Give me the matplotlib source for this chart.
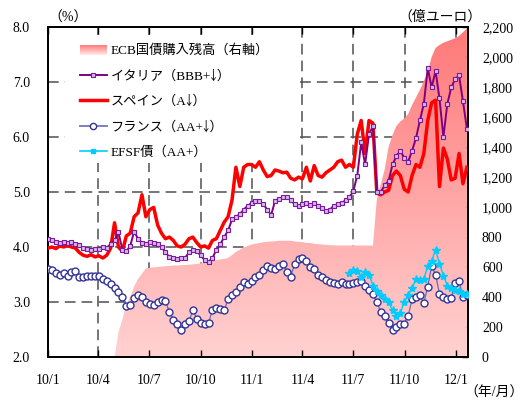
import numpy as np
import pandas as pd
import matplotlib
matplotlib.use("Agg")
import matplotlib.pyplot as plt
import matplotlib.dates as mdates
from matplotlib.patches import Rectangle
from matplotlib.lines import Line2D
from matplotlib.legend_handler import HandlerBase

plt.rcParams['font.family'] = ['Liberation Serif', 'Noto Sans CJK JP', 'DejaVu Sans']
plt.rcParams['font.size'] = 10

# Weekly observations from the first week of 2010
dates = pd.date_range('2010-01-01', periods=108, freq='7D')

# 10-year government bond yields (%)
italy = [4.15, 4.12, 4.10, 4.08, 4.10, 4.07, 4.10, 4.06, 4.04, 3.98,
         3.96, 3.95, 3.96, 3.97, 4.00, 3.99, 4.05, 4.12, 4.27, 3.95,
         3.92, 4.02, 4.28, 4.15, 4.08, 4.05, 4.10, 4.07, 4.05, 4.00,
         3.90, 3.82, 3.80, 3.78, 3.80, 3.80, 3.90, 3.95, 3.92, 3.85,
         3.76, 3.73, 3.80, 3.95, 4.05, 4.18, 4.30, 4.50, 4.55, 4.60,
         4.68, 4.75, 4.80, 4.84, 4.83, 4.78, 4.68, 4.58, 4.84, 4.88,
         4.90, 4.90, 4.85, 4.78, 4.75, 4.78, 4.80, 4.76, 4.80, 4.75,
         4.70, 4.65, 4.68, 4.75, 4.78, 4.80, 4.85, 4.90, 5.02, 5.30,
         5.90, 5.50, 6.05, 6.20, 5.00, 5.00, 5.12, 5.20, 5.50, 5.65,
         5.75, 5.62, 5.55, 5.75, 5.98, 6.30, 6.60, 7.25, 6.90, 7.20,
         6.70, 6.00, 6.60, 6.90, 7.05, 7.12, 6.65, 6.15]

spain = [3.98, 4.00, 3.97, 4.02, 4.00, 4.03, 4.00, 3.98, 3.90, 3.85,
         3.83, 3.86, 3.82, 3.84, 3.80, 3.85, 3.98, 4.44, 4.00, 3.92,
         4.20, 4.25, 4.55, 4.62, 4.95, 4.55, 4.68, 4.72, 4.40, 4.25,
         4.15, 4.18, 4.12, 4.02, 4.00, 4.05, 4.15, 4.18, 4.08, 4.00,
         4.02, 3.98, 4.12, 4.15, 4.30, 4.45, 4.55, 4.85, 5.45, 5.10,
         5.45, 5.50, 5.50, 5.45, 5.55, 5.40, 5.28, 5.30, 5.40, 5.38,
         5.35, 5.36, 5.25, 5.22, 5.27, 5.24, 5.45, 5.20, 5.48, 5.30,
         5.27, 5.35, 5.40, 5.45, 5.55, 5.58, 5.45, 5.50, 5.45, 6.05,
         6.30, 5.70, 6.30, 6.25, 4.98, 4.95, 5.00, 5.03, 5.30, 5.38,
         5.30, 5.05, 5.00, 5.30, 5.50, 5.45, 5.70, 6.30, 6.62, 6.67,
         5.10, 5.80, 5.60, 5.22, 5.25, 5.70, 5.15, 5.45]

france = [3.60, 3.58, 3.53, 3.50, 3.52, 3.47, 3.55, 3.56, 3.46, 3.45,
          3.47, 3.48, 3.48, 3.47, 3.42, 3.38, 3.33, 3.25, 3.18, 3.10,
          2.92, 2.95, 3.07, 3.12, 3.10, 3.00, 2.97, 2.95, 3.00, 3.04,
          3.02, 2.82, 2.68, 2.60, 2.50, 2.60, 2.65, 2.85, 2.70, 2.62,
          2.60, 2.62, 2.85, 2.90, 2.88, 2.85, 3.05, 3.12, 3.18, 3.28,
          3.36, 3.33, 3.38, 3.45, 3.50, 3.58, 3.65, 3.62, 3.60, 3.66,
          3.70, 3.55, 3.45, 3.70, 3.78, 3.80, 3.75, 3.63, 3.60, 3.50,
          3.45, 3.40, 3.36, 3.34, 3.33, 3.36, 3.32, 3.32, 3.35, 3.36,
          3.38, 3.30, 3.22, 3.15, 3.00, 2.82, 2.75, 2.62, 2.50, 2.55,
          2.60, 2.60, 2.75, 3.05, 3.10, 3.12, 2.98, 3.28, 3.65, 3.50,
          3.15, 3.10, 3.05, 3.08, 3.35, 3.38, 3.10, 3.12]

# EFSF bonds, quoted from week 77 onward
efsf_start = 77
efsf = [3.52, 3.58, 3.57, 3.45, 3.55, 3.50, 3.30, 3.20, 3.12, 3.05,
        3.00, 2.85, 2.75, 2.80, 3.00, 3.12, 3.25, 3.42, 3.40, 3.42,
        3.65, 3.75, 3.95, 3.70, 3.48, 3.30, 3.25, 3.22, 3.20, 3.15,
        3.14]

# ECB government bond holdings under the SMP (100 million euro)
ecb = [0, 0, 0, 0, 0, 0, 0, 0, 0, 0,
       0, 0, 0, 0, 0, 0, 0, 0, 165, 250,
       350, 400, 470, 520, 555, 590, 595, 598, 600, 603,
       605, 607, 610, 610, 612, 613, 615, 618, 620, 625,
       630, 635, 638, 645, 650, 655, 660, 680, 700, 715,
       730, 740, 750, 755, 760, 765, 768, 770, 772, 775,
       775, 775, 775, 770, 768, 765, 760, 760, 755, 752,
       750, 748, 745, 745, 743, 743, 743, 743, 743, 743,
       743, 743, 743, 743, 1050, 1150, 1250, 1400, 1480, 1540,
       1570, 1590, 1620, 1680, 1730, 1780, 1840, 1900, 2000, 2060,
       2080, 2095, 2105, 2115, 2125, 2140, 2165, 2190]

tick_dates = pd.to_datetime(['2010-01-01', '2010-04-01', '2010-07-01', '2010-10-01',
                             '2011-01-01', '2011-04-01', '2011-07-01', '2011-10-01',
                             '2012-01-01'])
tick_labels = ['10/1', '10/4', '10/7', '10/10', '11/1', '11/4', '11/7', '11/10', '12/1']
left_ticks = [2.0, 3.0, 4.0, 5.0, 6.0, 7.0, 8.0]
right_ticks = list(range(0, 2201, 200))

fig = plt.figure(figsize=(5.25, 4.01), dpi=100)
ax = fig.add_axes([48 / 525, 44 / 401, 420 / 525, 330 / 401])
ax2 = ax.twinx()
ax.set_zorder(2)
ax2.set_zorder(1)
ax.patch.set_visible(False)

xmin = pd.Timestamp('2010-01-01')
xmax = pd.Timestamp('2012-01-22')
ax.set_xlim(xmin, xmax)
ax.set_ylim(2.0, 8.0)
ax2.set_ylim(0, 2200)

# Dashed grid drawn underneath the holdings area
grid_kw = dict(color='#505050', lw=1.1, dashes=(7, 4), zorder=1)
for v in left_ticks[1:-1]:
    ax2.plot([0, 1], [v, v], transform=ax.get_yaxis_transform(), **grid_kw)
for d in tick_dates[1:]:
    ax2.axvline(d, **grid_kw)

# White backing behind the legend
ax2.add_patch(Rectangle((0.040, 0.588), 0.553, 0.388, transform=ax2.transAxes,
                        facecolor='white', edgecolor='none', zorder=1.5))

# ECB holdings: area with a vertical gradient
xnum = mdates.date2num(dates)
fill = ax2.fill_between(xnum, 0, ecb, facecolor='none', edgecolor='none', zorder=2)
grad = np.linspace(0, 1, 256).reshape(-1, 1)
c_lo = np.array([1.0, 0.82, 0.82])
c_hi = np.array([1.0, 0.47, 0.47])
img = c_lo + (c_hi - c_lo) * grad[:, :, None]
im = ax2.imshow(img, extent=[xnum[0], xnum[-1], 0, 2200], origin='lower',
                aspect='auto', zorder=2, interpolation='bilinear')
im.set_clip_path(fill.get_paths()[0], transform=ax2.transData)
ax2.set_xlim(xmin, xmax)

# Yield lines
ax.plot(dates, france, color='#6a6ab8', lw=0.9, marker='o', ms=5, mfc='white',
        mec='#333399', mew=1.0, zorder=3)
ax.plot(dates[efsf_start:], efsf, color='#00ccff', lw=1.0, marker='*', ms=6,
        mec='#00ccff', zorder=4)
ax.plot(dates, spain, color='#ff0000', lw=2.5, zorder=5)
ax.plot(dates, italy, color='#800080', lw=1.4, marker='s', ms=3.4, mfc='#d8b8f0',
        mec='#7a1a9a', mew=0.8, zorder=6)

# Axes styling
for a in (ax, ax2):
    for s in a.spines.values():
        s.set_linewidth(1.3)
        s.set_color('black')

ax.set_xticks(tick_dates)
ax.set_xticklabels(tick_labels)
ax.set_yticks(left_ticks)
ax.set_yticklabels([f'{v:.1f}' for v in left_ticks])
ax.tick_params(axis='x', direction='in', length=5, width=1.0, pad=12,
               top=True, labelsize=10)
ax.tick_params(axis='y', direction='in', length=0, pad=13, labelsize=10)
ax2.set_yticks(right_ticks)
ax2.set_yticklabels([f'{v:,}' for v in right_ticks])
ax2.tick_params(axis='y', direction='in', length=4, width=1.0, pad=10, labelsize=10)


class GradientPatchHandler(HandlerBase):
    def create_artists(self, legend, orig_handle, xdescent, ydescent, width,
                       height, fontsize, trans):
        n = 10
        arts = []
        for k in range(n):
            t = (k + 0.5) / n
            c = c_lo + (c_hi - c_lo) * t
            c = np.clip(c + (1 - t) * np.array([0, 0.1, 0.1]), 0, 1)
            arts.append(Rectangle((-xdescent, -ydescent + height * k / n), width,
                                  height / n, facecolor=c, edgecolor='none',
                                  transform=trans))
        return arts


ecb_handle = Rectangle((0, 0), 1, 1)
h_it = Line2D([], [], color='#800080', lw=1.4, marker='s', ms=3.4, mfc='#d8b8f0',
              mec='#7a1a9a', mew=0.8)
h_sp = Line2D([], [], color='#ff0000', lw=2.5)
h_fr = Line2D([], [], color='#7f7fbf', lw=1.4, marker='o', ms=4.5, mfc='white',
              mec='#333399', mew=1.0)
h_ef = Line2D([], [], color='#00ccff', lw=1.2, marker='s', ms=3, mec='#00ccff')
down = '\uffec'
labels = ['ECB国債購入残高（右軸）', f'イタリア（BBB+{down}）', f'スペイン（A{down}）',
          f'フランス（AA+{down}）', 'EFSF債（AA+）']
leg = ax.legend([ecb_handle, h_it, h_sp, h_fr, h_ef], labels,
                handler_map={Rectangle: GradientPatchHandler()},
                loc='upper left', bbox_to_anchor=(0.075, 0.947), frameon=False,
                handlelength=2.1, handleheight=0.8, handletextpad=0.25,
                labelspacing=0.97, borderpad=0, borderaxespad=0, numpoints=1,
                fontsize=9.5)

fig.text(68 / 525, 1 - 18 / 401, '（%）', ha='center', va='center', fontsize=10)
fig.text(440 / 525, 1 - 17 / 401, '（億ユーロ）', ha='center', va='center', fontsize=10)
fig.text(494 / 525, 1 - 393 / 401, '（年/月）', ha='center', va='center', fontsize=10)

fig.savefig('out.png', dpi=100)
